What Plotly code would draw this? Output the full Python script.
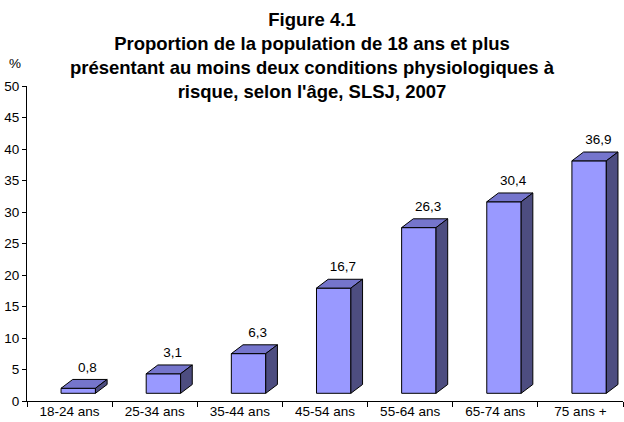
import plotly.graph_objects as go

# ---- data ----
categories = ["18-24 ans", "25-34 ans", "35-44 ans", "45-54 ans", "55-64 ans", "65-74 ans", "75 ans +"]
values = [0.8, 3.1, 6.3, 16.7, 26.3, 30.4, 36.9]
y_ticks = [0, 5, 10, 15, 20, 25, 30, 35, 40, 45, 50]
title_lines = [
    "Figure 4.1",
    "Proportion de la population de 18 ans et plus",
    "présentant au moins deux conditions physiologiques à",
    "risque, selon l'âge, SLSJ, 2007",
]
y_unit = "%"

# ---- style / 3D geometry (axis units) ----
FRONT_COLOR = "#9999FF"
TOP_COLOR = "#7575CC"
SIDE_COLOR = "#4D4D80"
EDGE = "#000000"
BASE = 1.22        # front face base lifted by the 3D offset
F_L, F_R = -0.10, 0.304   # front face extent relative to category centre
DX, DY = 0.137, 1.4       # bar depth
LABEL_DX, LABEL_DY = 0.21, 4.4
FONT = "Liberation Sans, Arial, sans-serif"

fig = go.Figure()

pos = list(range(len(categories)))
for i, v in zip(pos, values):
    xl, xr = i + F_L, i + F_R
    yb, yt = BASE, BASE + v
    # front
    fig.add_trace(go.Scatter(
        x=[xl, xr, xr, xl, xl], y=[yb, yb, yt, yt, yb],
        mode="lines", fill="toself", fillcolor=FRONT_COLOR,
        line=dict(color=EDGE, width=1), hoverinfo="skip", showlegend=False))
    # top
    fig.add_trace(go.Scatter(
        x=[xl, xr, xr + DX, xl + DX, xl], y=[yt, yt, yt + DY, yt + DY, yt],
        mode="lines", fill="toself", fillcolor=TOP_COLOR,
        line=dict(color=EDGE, width=1), hoverinfo="skip", showlegend=False))
    # side
    fig.add_trace(go.Scatter(
        x=[xr, xr + DX, xr + DX, xr, xr], y=[yb, yb + DY, yt + DY, yt, yb],
        mode="lines", fill="toself", fillcolor=SIDE_COLOR,
        line=dict(color=EDGE, width=1), hoverinfo="skip", showlegend=False))

# value labels
fig.add_trace(go.Scatter(
    x=[i + LABEL_DX for i in pos], y=[v + LABEL_DY for v in values],
    text=[f"{v:.1f}".replace(".", ",") for v in values],
    mode="text", textposition="middle center",
    textfont=dict(family=FONT, size=13.5, color="#000000"),
    xaxis="x2", yaxis="y", hoverinfo="skip", showlegend=False, cliponaxis=False))

L, R, T, B = 27, 1, 86, 21
W, H = 624, 422
ph = H - T - B

fig.update_layout(
    width=W, height=H,
    margin=dict(l=L, r=R, t=T, b=B),
    paper_bgcolor="white", plot_bgcolor="white",
    font=dict(family=FONT, size=13.5, color="#000000"),
    title=dict(
        text="<b>" + "<br>".join(title_lines) + "</b>",
        x=0.5, xref="container", xanchor="center",
        y=1 - 26 / H, yref="container", yanchor="top",
        font=dict(family=FONT, size=18.5, color="#000000")),
    xaxis=dict(
        range=[-0.5, len(categories) - 0.5],
        tickvals=[p - 0.5 for p in pos] + [len(categories) - 0.5],
        showticklabels=False, ticks="outside", ticklen=5, tickcolor="#000000",
        showline=True, linecolor="#000000", linewidth=1,
        showgrid=False, zeroline=False, fixedrange=True),
    xaxis2=dict(
        overlaying="x", anchor="y", side="bottom",
        range=[-0.5, len(categories) - 0.5],
        tickvals=pos, ticktext=categories, ticks="",
        showline=False, showgrid=False, zeroline=False,
        tickfont=dict(family=FONT, size=13.5, color="#000000")),
    yaxis=dict(
        range=[0, 50], tickvals=y_ticks, ticks="outside", ticklen=4,
        tickcolor="#000000", showline=True, linecolor="#000000", linewidth=1,
        showgrid=False, zeroline=False,
        tickfont=dict(family=FONT, size=13.5, color="#000000")),
    annotations=[dict(
        text=y_unit, xref="paper", yref="paper",
        x=(14.5 - L) / (W - L - R), y=(H - B - 63) / ph,
        xanchor="center", yanchor="middle", showarrow=False,
        font=dict(family=FONT, size=13.5, color="#000000"))],
)

fig.write_html(
    "out.html",
    config={"displayModeBar": False, "staticPlot": True},
    post_script="document.body.style.margin='0';document.body.style.overflow='hidden';",
)
